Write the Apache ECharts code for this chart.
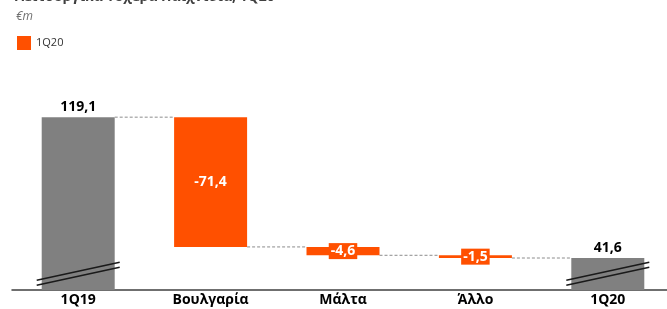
<!DOCTYPE html>
<html>
<head>
<meta charset="utf-8">
<script src="https://cdn.jsdelivr.net/npm/echarts@6/dist/echarts.min.js"></script>
<style>
  html, body { margin: 0; padding: 0; background: #fff; }
  #chart { width: 667px; height: 309px; }
</style>
</head>
<body>
<div id="chart"></div>
<script>
// datos del gráfico
const categories = ['1Q19', 'Βουλγαρία', 'Μάλτα', 'Άλλο', '1Q20'];
const changes = [119.1, -71.4, -4.6, -1.5, 41.6];
const valueLabels = ['119,1', '-71,4', '-4,6', '-1,5', '41,6'];
const barKinds = ['total', 'delta', 'delta', 'delta', 'total'];
const breakLevel = 33;

const GREY = '#808080';
const ORANGE = '#ff5000';
const BAR_W = 73;

// bases invisibles y alturas visibles de la cascada
let running = 0;
const baseData = [];
const barData = [];
const levels = [];
changes.forEach((v, i) => {
  if (barKinds[i] === 'total') {
    running = v;
    baseData.push(0);
    barData.push({
      value: v,
      itemStyle: { color: GREY },
      label: {
        show: true, position: 'top', distance: 3, formatter: valueLabels[i],
        color: '#000', fontWeight: 'bold', fontSize: 14
      }
    });
  } else {
    running = +(running + v).toFixed(1);
    baseData.push(running);
    barData.push({
      value: -v,
      itemStyle: { color: ORANGE },
      label: {
        show: true, position: 'inside', formatter: valueLabels[i],
        color: '#fff', fontWeight: 'bold', fontSize: 14, lineHeight: 16,
        backgroundColor: ORANGE, padding: [0, 2]
      }
    });
  }
  levels.push(running);
});

// líneas de conexión entre barras
const connectorData = levels.slice(0, -1).map((lv, i) => [i, lv]);
// marcas de eje roto
const breakData = barKinds.map((k, i) => k === 'total' ? [i, breakLevel] : null).filter(Boolean);

const chart = echarts.init(document.getElementById('chart'));

chart.setOption({
  animation: false,
  textStyle: { fontFamily: '"Open Sans", "Noto Sans", sans-serif' },
  title: [
    {
      text: 'Λειτουργικά Τυχερά Παιχνίδια, 1Q20',
      left: 10, top: -15,
      textStyle: { fontSize: 14, fontWeight: 'bold', color: '#404040' }
    },
    {
      text: '€m',
      left: 11, top: 6,
      textStyle: { fontSize: 12, fontWeight: 'normal', fontStyle: 'italic', color: '#707070' }
    }
  ],
  legend: {
    left: 12, top: 31,
    itemWidth: 14, itemHeight: 14, itemGap: 10,
    data: [{ name: '1Q20', icon: 'rect', itemStyle: { color: ORANGE } }],
    textStyle: { fontSize: 11, color: '#333' }
  },
  grid: { left: 12, right: -7, top: 61, bottom: 19, outerBoundsMode: 'none', containLabel: false },
  xAxis: {
    type: 'category',
    data: categories,
    axisTick: { show: false },
    axisLine: { lineStyle: { color: '#404040', width: 1.5 } },
    axisLabel: { color: '#000', fontWeight: 'bold', fontSize: 14, margin: 3 }
  },
  yAxis: {
    type: 'value',
    min: 24, max: 150,
    show: false,
    splitLine: { show: false }
  },
  series: [
    {
      name: 'base',
      type: 'bar',
      stack: 'w',
      barWidth: BAR_W,
      itemStyle: { color: 'transparent' },
      emphasis: { disabled: true },
      data: baseData
    },
    {
      name: '1Q20',
      type: 'bar',
      stack: 'w',
      barWidth: BAR_W,
      data: barData
    },
    {
      name: 'connectors',
      type: 'custom',
      silent: true,
      z: 1,
      renderItem: (params, api) => {
        const a = api.coord([api.value(0), api.value(1)]);
        const b = api.coord([api.value(0) + 1, api.value(1)]);
        return {
          type: 'line',
          shape: { x1: a[0] + BAR_W / 2, y1: a[1], x2: b[0] - BAR_W / 2, y2: b[1] },
          style: { stroke: '#8c8c8c', lineWidth: 1, lineDash: [3, 2] }
        };
      },
      data: connectorData
    },
    {
      name: 'breaks',
      type: 'custom',
      silent: true,
      z: 5,
      renderItem: (params, api) => {
        const c = api.coord([api.value(0), api.value(1)]);
        const half = BAR_W / 2 + 5;
        const rise = 9;
        const mk = (dy) => ({
          type: 'line',
          shape: { x1: c[0] - half, y1: c[1] + rise + dy, x2: c[0] + half, y2: c[1] - rise + dy },
          style: { stroke: '#1a1a1a', lineWidth: 1.5 }
        });
        return { type: 'group', children: [mk(-2.5), mk(2.5)] };
      },
      data: breakData
    }
  ]
});
</script>
</body>
</html>
